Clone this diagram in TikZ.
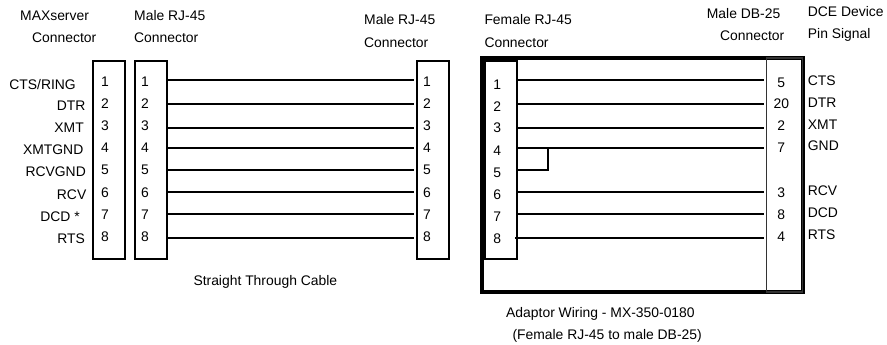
\documentclass[tikz,border=0pt]{standalone}
\usepackage{fontspec}
\setmainfont{Liberation Sans}
\tikzset{
  lbl/.style={font=\fontsize{13.9}{16}\selectfont, inner sep=0pt, text=black},
  txt/.style={lbl, anchor=base west},
  rtxt/.style={lbl, anchor=base east},
  num/.style={lbl, anchor=base},
  pinbox/.style={draw=black, line width=1.6pt, outer sep=0pt, anchor=north west, minimum width=32pt, minimum height=198pt, inner sep=0pt},
  frame/.style={draw=black, line width=4pt, outer sep=0pt, anchor=north west, minimum width=321pt, minimum height=234pt, inner sep=0pt},
  wire/.style={draw=black, line width=1.7pt},
}
\begin{document}
\begin{tikzpicture}[x=1pt,y=-1pt]
\useasboundingbox[fill=white] (0,0) rectangle (887,345);
% boxes
\node[frame] (adaptor) at (482,58) {};
\node[pinbox] (srv) at (93,61) {};
\node[pinbox] (rja) at (135,61) {};
\node[pinbox] (rjb) at (417,61) {};
\node[pinbox] (rjf) at (485,61) {};
\node[draw=black!80, line width=1.2pt, outer sep=0pt, anchor=north west, minimum width=36pt, minimum height=234pt, inner sep=0pt] (db) at (766.7,58) {};
% wire ends
\foreach \i/\y in {1/80,2/104,3/128,4/148,5/170,6/192,7/214,8/238}{
  \coordinate (a\i) at (167,\y);
  \coordinate (b\i) at (414,\y);
  \draw[wire] (a\i) -- (b\i);
}
\foreach \i/\y in {1/80,2/104,3/128,4/148,6/192,7/214}{
  \coordinate (c\i) at (517,\y);
  \coordinate (d\i) at (764,\y);
  \draw[wire] (c\i) -- (d\i);
}
\coordinate (c8) at (515,238);
\coordinate (d8) at (764,238);
\draw[wire] (c8) -- (d8);
\coordinate (c5) at (517,170);
\coordinate (jt) at (548,148);
\draw[wire] (c5) -| (jt);
% header text
\node[txt] (h1) at (20,21) {MAXserver};
\node[txt] (h2) at (32,42.5) {Connector};
\node[txt] (h3) at (134,21) {Male RJ-45};
\node[txt] (h4) at (134,42.5) {Connector};
\node[txt] (h5) at (364,25) {Male RJ-45};
\node[txt] (h6) at (364,47.3) {Connector};
\node[txt] (h7) at (484.3,25) {Female RJ-45};
\node[txt] (h8) at (484.3,47.3) {Connector};
\node[txt] (h9) at (706.7,19) {Male DB-25};
\node[txt] (h10) at (720,41) {Connector};
\node[txt] (h11) at (807.7,16.7) {DCE Device};
\node[txt] (h12) at (807.7,39) {Pin Signal};
% left signals
\node[rtxt] (s1) at (76,89) {CTS/RING};
\node[rtxt] (s2) at (85.7,110.5) {DTR};
\node[rtxt] (s3) at (84,132.5) {XMT};
\node[rtxt] (s4) at (83.5,154.5) {XMTGND};
\node[rtxt] (s5) at (86,176.7) {RCVGND};
\node[rtxt] (s6) at (86.5,199) {RCV};
\node[rtxt] (s7) at (80,221) {DCD *};
\node[rtxt] (s8) at (85,243) {RTS};
% pin numbers
\foreach \i/\y in {1/87,2/108.7,3/130.3,4/152.7,5/174.7,6/197.7,7/219.3,8/241.7}{
  \node[num] (na\i) at (105,\y) {\i};
  \node[num] (nb\i) at (145,\y) {\i};
  \node[num] (nc\i) at (427,\y) {\i};
}
\foreach \i/\y in {1/89,2/111,3/132.7,4/155,5/177,6/199.3,7/221,8/243.3}{
  \node[num] (nd\i) at (497.3,\y) {\i};
}
\foreach \n/\t/\y in {e1/5/87.3,e2/20/109,e3/2/131,e4/7/153,e5/3/197,e6/8/219,e7/4/241.7}{
  \node[num] (\n) at (781.3,\y) {\t};
}
% right signals
\foreach \n/\t/\y in {r1/CTS/85,r2/DTR/107,r3/XMT/129,r4/GND/150.7,r5/RCV/195,r6/DCD/217.3,r7/RTS/239.3}{
  \node[txt] (\n) at (807.7,\y) {\t};
}
% captions
\node[txt] (cap1) at (193.3,285) {Straight Through Cable};
\node[txt] (cap2) at (506,317.3) {Adaptor Wiring - MX-350-0180};
\node[txt] (cap3) at (512.3,339) {(Female RJ-45 to male DB-25)};
\end{tikzpicture}
\end{document}
